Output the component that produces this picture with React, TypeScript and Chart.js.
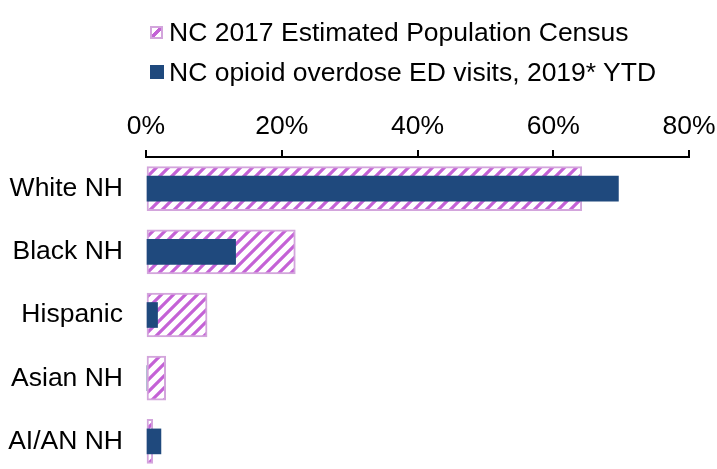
import React, { useEffect, useRef } from "react";
import { Chart, registerables } from "chart.js";

Chart.register(...registerables);

const categories = ["White NH", "Black NH", "Hispanic", "Asian NH", "AI/AN NH"];
const censusShare = [64.2, 22.0, 9.0, 2.9, 1.0];
const edVisitShare = [69.6, 13.2, 1.7, 0, 2.2];
const xTickValues = [0, 20, 40, 60, 80];
const legendLabels = [
  "NC 2017 Estimated Population Census",
  "NC opioid overdose ED visits, 2019* YTD",
];

const FONT = "'Liberation Sans', Arial, sans-serif";
const FONT_SIZE = 26.5;
const NAVY = "#1F497D";
const STRIPE = "#C462D6";
const HATCH_BORDER = "#D3A5DC";

function makeHatch(): CanvasPattern | string {
  const size = 12;
  const c = document.createElement("canvas");
  c.width = size;
  c.height = size;
  const ctx = c.getContext("2d");
  if (!ctx) return STRIPE;
  ctx.fillStyle = "#ffffff";
  ctx.fillRect(0, 0, size, size);
  ctx.strokeStyle = STRIPE;
  ctx.lineWidth = 3.2;
  ctx.lineCap = "square";
  const seg = (x1: number, y1: number, x2: number, y2: number) => {
    ctx.beginPath();
    ctx.moveTo(x1, y1);
    ctx.lineTo(x2, y2);
    ctx.stroke();
  };
  seg(-2, size + 2, size + 2, -2);
  seg(-size, size, size, -size);
  seg(0, 2 * size, 2 * size, 0);
  const p = ctx.createPattern(c, "repeat");
  return p || STRIPE;
}

export default function App() {
  const canvasRef = useRef<HTMLCanvasElement | null>(null);

  useEffect(() => {
    const canvas = canvasRef.current;
    if (!canvas) return;
    const hatch = makeHatch();
    const chart = new Chart(canvas, {
      type: "bar",
      data: {
        labels: categories,
        datasets: [
          {
            label: legendLabels[0],
            data: censusShare,
            backgroundColor: hatch as any,
            borderColor: HATCH_BORDER,
            borderWidth: 2,
            borderSkipped: false,
            barThickness: 44,
            grouped: false,
            order: 1,
          },
          {
            label: legendLabels[1],
            data: edVisitShare,
            backgroundColor: NAVY,
            borderWidth: 0,
            barThickness: 25,
            grouped: false,
            order: 0,
          },
        ],
      },
      options: {
        indexAxis: "y",
        animation: false,
        responsive: false,
        maintainAspectRatio: false,
        layout: { padding: { top: 107, right: 28, bottom: 7, left: 0 } },
        plugins: {
          legend: { display: false },
          tooltip: { enabled: false },
        },
        scales: {
          x: {
            position: "top",
            min: 0,
            max: 80,
            afterBuildTicks: (scale: any) => {
              scale.ticks = xTickValues.map((v) => ({ value: v }));
            },
            afterFit: (scale: any) => {
              scale.height = 50;
              scale.paddingLeft = 0;
              scale.paddingRight = 0;
            },
            ticks: {
              callback: (v: any) => v + "%",
              color: "#000",
              font: { family: FONT, size: FONT_SIZE },
              padding: 7,
              maxRotation: 0,
              autoSkip: false,
            },
            grid: {
              drawOnChartArea: false,
              drawTicks: true,
              tickLength: 7,
              color: "#000",
              lineWidth: 2,
            },
            border: { display: true, color: "#000", width: 2 },
          },
          y: {
            afterFit: (scale: any) => {
              scale.width = 146;
              scale.paddingTop = 0;
              scale.paddingBottom = 0;
            },
            ticks: {
              color: "#000",
              font: { family: FONT, size: FONT_SIZE },
              padding: 23,
              autoSkip: false,
            },
            grid: { display: false, drawTicks: false },
            border: { display: false },
          },
        },
      },
    });
    return () => chart.destroy();
  }, []);

  const textStyle: React.CSSProperties = {
    position: "absolute",
    left: 169,
    fontFamily: FONT,
    fontSize: FONT_SIZE,
    lineHeight: "30px",
    color: "#000",
    whiteSpace: "nowrap",
  };

  return (
    <div
      style={{
        position: "absolute",
        left: 0,
        top: 0,
        width: 717,
        height: 469,
        overflow: "hidden",
        background: "#fff",
      }}
    >
      <canvas ref={canvasRef} width={717} height={480} style={{ display: "block" }} />
      <div
        style={{
          position: "absolute",
          left: 150,
          top: 26,
          width: 13,
          height: 13,
          boxSizing: "border-box",
          border: `2px solid ${HATCH_BORDER}`,
          background: `linear-gradient(to bottom right, #fff 0 38%, ${STRIPE} 38% 62%, #fff 62%)`,
        }}
      />
      <div style={{ ...textStyle, top: 17 }}>{legendLabels[0]}</div>
      <div
        style={{
          position: "absolute",
          left: 150,
          top: 65,
          width: 14,
          height: 14,
          background: NAVY,
        }}
      />
      <div style={{ ...textStyle, top: 57 }}>{legendLabels[1]}</div>
    </div>
  );
}
